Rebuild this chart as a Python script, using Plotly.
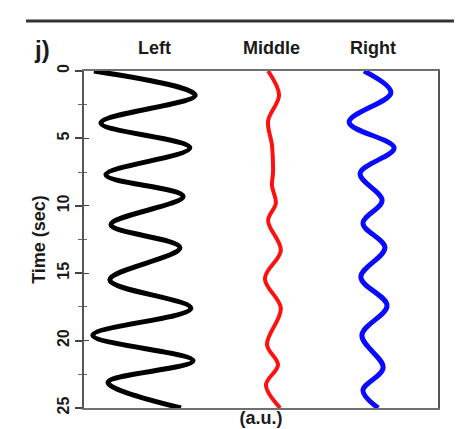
import plotly.graph_objects as go

# Time (sec) at the turning points of each trace
left_t = [0, 1.8, 3.85, 5.7, 7.7, 9.3, 11.4, 13.1, 15.5, 17.6, 19.6, 21.5, 23.1, 25]
left_v = [2.8, 31.4, 4.8, 29.9, 6.2, 28.0, 7.6, 27.1, 7.3, 30.2, 2.5, 30.8, 6.8, 27.4]

middle_t = [0, 1.8, 3.7, 5.5, 7.5, 8.5, 9.8, 11.1, 13.3, 15.4, 17.6, 20.3, 21.8, 23.3, 25]
middle_v = [52.0, 55.1, 52.0, 53.1, 53.4, 53.1, 54.2, 52.0, 55.6, 51.1, 55.6, 51.7, 54.8, 51.4, 55.4]

right_t = [0, 1.6, 3.8, 5.7, 7.6, 9.6, 11.3, 13.1, 15.3, 17.4, 19.6, 22.0, 23.7, 25]
right_v = [79.1, 86.7, 74.9, 87.6, 78.0, 84.2, 78.8, 85.0, 78.2, 85.6, 78.5, 84.5, 78.8, 83.1]

column_labels = ["Left", "Middle", "Right"]
y_ticks = [0, 5, 10, 15, 20, 25]

FONT = "Liberation Sans, Arial, sans-serif"
TXT = "#1a1a1a"

fig = go.Figure()
for t, v, col, w in [(left_t, left_v, "#000000", 5),
                     (middle_t, middle_v, "#ff1010", 4),
                     (right_t, right_v, "#0a0aff", 5)]:
    fig.add_trace(go.Scatter(x=v, y=t, mode="lines",
                             line=dict(color=col, width=w, shape="spline", smoothing=1.0),
                             showlegend=False, hoverinfo="skip"))

# invisible trace on second y axis for inward ticks
fig.add_trace(go.Scatter(x=[None], y=[None], yaxis="y2", showlegend=False))

fig.update_layout(
    width=462, height=429,
    margin=dict(l=76, r=32, t=63, b=29),
    paper_bgcolor="white", plot_bgcolor="white",
    font=dict(family=FONT, color=TXT, weight="bold"),
    xaxis=dict(range=[0, 100], showticklabels=False, ticks="", showgrid=False, automargin=False,
               zeroline=False, showline=True, linecolor="#707070", linewidth=2, mirror=True,
               title=dict(text="(a.u.)", font=dict(size=18, family=FONT, weight="bold"), standoff=2)),
    yaxis=dict(range=[25, 0], tickvals=y_ticks, ticktext=[str(v) for v in y_ticks], automargin=False,
               tickangle=-90, ticks="outside", ticklen=7, tickwidth=1.5, tickcolor="#444",
               minor=dict(dtick=2.5, ticks="outside", ticklen=4, tickcolor="#666", tickwidth=1),
               showgrid=False, zeroline=False, showline=True, linecolor="#555", linewidth=2,
               mirror=True, tickfont=dict(size=16, family=FONT, weight="bold"),
               title=dict(text="Time (sec)", font=dict(size=18, family=FONT, weight="bold"), standoff=4)),
    yaxis2=dict(range=[25, 0], overlaying="y", side="left", showticklabels=False, automargin=False,
                tickvals=y_ticks, ticks="inside", ticklen=5, tickcolor="#444",
                minor=dict(dtick=2.5, ticks="inside", ticklen=3, tickcolor="#666"),
                showgrid=False, zeroline=False, showline=False),
)

fig.add_shape(type="line", xref="paper", yref="paper", x0=-0.164, x1=1.079, y0=1.148, y1=1.148,
              line=dict(color="#333333", width=3))

fig.add_annotation(text="j)", xref="paper", yref="paper", x=-0.12, y=1.065, showarrow=False,
                   font=dict(size=24, family=FONT, weight="bold", color=TXT), xanchor="center", yanchor="middle")
for lab, px in zip(column_labels, [146, 263, 365]):
    fig.add_annotation(text=lab, xref="paper", yref="paper", x=(px - 76) / 354, y=1.068,
                       showarrow=False, xanchor="center", yanchor="middle",
                       font=dict(size=18, family=FONT, weight="bold", color=TXT))

fig.write_html("out.html")
